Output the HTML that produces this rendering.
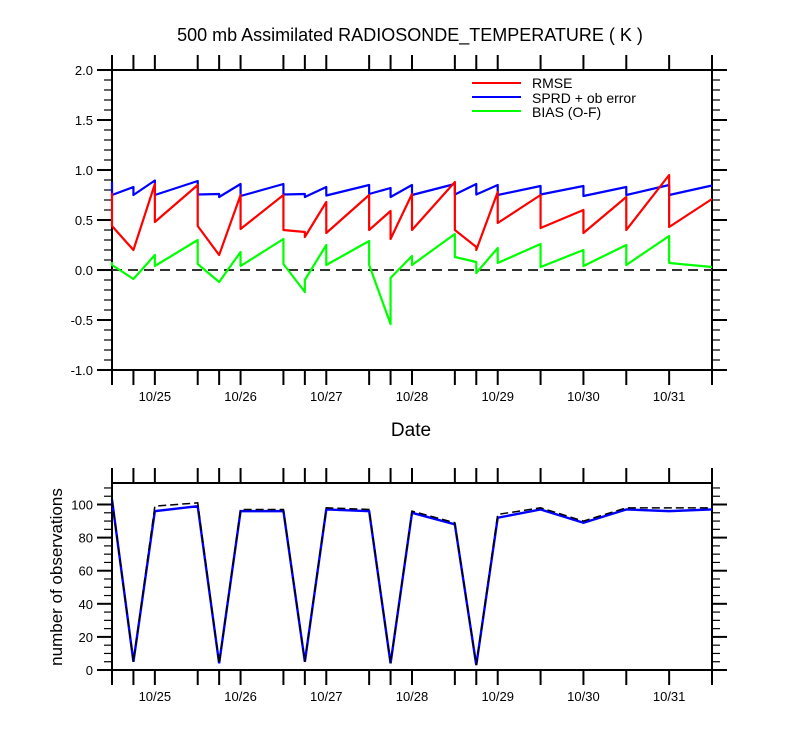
<!DOCTYPE html>
<html><head><meta charset="utf-8"><style>
body{margin:0;background:#fff}
svg{display:block;font-family:"Liberation Sans",Arial,sans-serif}
</style></head><body>
<svg id="c" width="800" height="750" viewBox="0 0 800 750">
<text x="410" y="41" font-size="18" text-anchor="middle">500 mb Assimilated RADIOSONDE_TEMPERATURE ( K )</text>
<g id="topPanel"></g>
<g id="botPanel"></g>
<g>
<line x1="472" y1="83" x2="521" y2="83" stroke="#f00" stroke-width="2"/>
<text x="532" y="88" font-size="14">RMSE</text>
<line x1="472" y1="97" x2="521" y2="97" stroke="#00f" stroke-width="2"/>
<text x="532" y="103" font-size="14">SPRD + ob error</text>
<line x1="472" y1="111" x2="521" y2="111" stroke="#0f0" stroke-width="2"/>
<text x="532" y="117" font-size="14">BIAS (O-F)</text>
</g>
<text x="411" y="436" font-size="19" text-anchor="middle">Date</text>
<text transform="translate(62,577) rotate(-90)" font-size="17" text-anchor="middle">number of observations</text>
</svg>
<script>
const hours=[0,6,12,24,30,36,48,54,60,72,78,84,96,102,108,120,132,144,156,168];
const dateLabels=["10/25","10/26","10/27","10/28","10/29","10/30","10/31"];
const dateHours=[12,36,60,84,108,132,156];
const rmseBefore=[0.77,0.20,0.86,0.85,0.15,0.75,0.75,0.38,0.68,0.75,0.59,0.76,0.88,0.23,0.78,0.75,0.60,0.73,0.95,0.71];
const rmseAfter=[0.44,0.20,0.48,0.44,0.15,0.41,0.40,0.33,0.37,0.40,0.31,0.40,0.40,0.20,0.47,0.42,0.37,0.40,0.43,0.71];
const sprdBefore=[0.88,0.83,0.895,0.89,0.76,0.86,0.86,0.76,0.83,0.85,0.82,0.85,0.86,0.86,0.85,0.84,0.84,0.83,0.85,0.845];
const sprdAfter=[0.75,0.75,0.75,0.755,0.73,0.74,0.755,0.73,0.745,0.76,0.73,0.75,0.755,0.755,0.75,0.755,0.74,0.75,0.75,0.845];
const biasBefore=[0.08,-0.09,0.15,0.30,-0.12,0.18,0.31,-0.22,0.25,0.29,-0.54,0.14,0.36,0.08,0.22,0.26,0.20,0.25,0.34,0.03];
const biasAfter=[0.05,-0.09,0.04,0.06,-0.12,0.04,0.06,-0.10,0.05,0.05,-0.08,0.05,0.13,-0.03,0.07,0.03,0.04,0.05,0.07,0.03];
const obsUsed=[103,5,96,99,4,96,96,5,97,96,4,95,88,3,92,97,89,97,96,97];
const obsTotal=[103,5,99,101,4,97,97,5,98,97,4,96,89,3,94,98,90,98,98,98];
const topTicks=["-1.0","-0.5","0.0","0.5","1.0","1.5","2.0"];
const botTicks=["0","20","40","60","80","100"];

const NS="http://www.w3.org/2000/svg";
const X0=112,X1=712;
const xs=h=>X0+(h/168)*(X1-X0);
const yTop=v=>370-(v+1)*100;
const yBot=v=>670-v*(187/113);
function el(p,tag,a){const e=document.createElementNS(NS,tag);for(const k in a)e.setAttribute(k,a[k]);p.appendChild(e);return e;}
const topG=document.getElementById('topPanel'),botG=document.getElementById('botPanel');

function frame(g,yt,yb,name){
  const r=el(g,'rect',{x:X0,y:yt,width:X1-X0,height:yb-yt,fill:'none',stroke:'#000','stroke-width':2});
  
  
  hours.forEach(h=>{
    const a=el(g,'line',{x1:xs(h),x2:xs(h),y1:yt,y2:yt-15,stroke:'#000','stroke-width':2});
    
    
    const b=el(g,'line',{x1:xs(h),x2:xs(h),y1:yb,y2:yb+15,stroke:'#000','stroke-width':2});
    
    
  });
  dateHours.forEach((h,i)=>{
    const t=el(g,'text',{x:xs(h),y:yb+31,'font-size':13,'text-anchor':'middle'});
    t.textContent=dateLabels[i];
    
    
  });
}
function yticks(g,ys,min,max,minor,major,labels,name){
  for(let v=min;v<=max+1e-9;v+=minor){
    const isMaj=Math.abs(Math.round(v/major)*major-v)<1e-6;
    const len=isMaj?15:8;const y=ys(v);
    const l=el(g,'line',{x1:X0-len,x2:X0,y1:y,y2:y,stroke:'#000','stroke-width':isMaj?2:1.2});
    
    
    const r=el(g,'line',{x1:X1,x2:X1+len,y1:y,y2:y,stroke:'#000','stroke-width':isMaj?2:1.2});
    
    
  }
  labels.forEach(s=>{
    const t=el(g,'text',{x:X0-19,y:ys(parseFloat(s))+5,'font-size':13,'text-anchor':'end'});
    t.textContent=s;
    
    
  });
}
frame(topG,70,370,'top');
yticks(topG,yTop,-1,2,0.1,0.5,topTicks,'y');
const zl=el(topG,'line',{x1:X0,x2:X1,y1:yTop(0),y2:yTop(0),stroke:'#333','stroke-width':2,'stroke-dasharray':'10,6'});



function saw(bef,aft,color,name){
  let d='';
  hours.forEach((h,i)=>{
    d+=(i?'L':'M')+xs(h)+','+yTop(bef[i])+'L'+xs(h)+','+yTop(aft[i]);
  });
  const p=el(topG,'path',{d:d,fill:'none',stroke:color,'stroke-width':2.2,'stroke-linejoin':'round'});
  
  
}
saw(sprdBefore,sprdAfter,'#00f','sprd-line');
saw(rmseBefore,rmseAfter,'#f00','rmse-line');
saw(biasBefore,biasAfter,'#0f0','bias-line');

frame(botG,483,670,'bottom');
yticks(botG,yBot,0,110,5,20,botTicks,'obs');
function line(vals,attrs,name){
  const p=el(botG,'polyline',Object.assign({points:hours.map((h,i)=>xs(h)+','+yBot(vals[i])).join(' '),fill:'none'},attrs));
  
  
}
line(obsUsed,{stroke:'#00f','stroke-width':2.4},'obs-used-line');
line(obsTotal,{stroke:'#000','stroke-width':1.5,'stroke-dasharray':'8,4'},'obs-total-line');
</script>
</body></html>
